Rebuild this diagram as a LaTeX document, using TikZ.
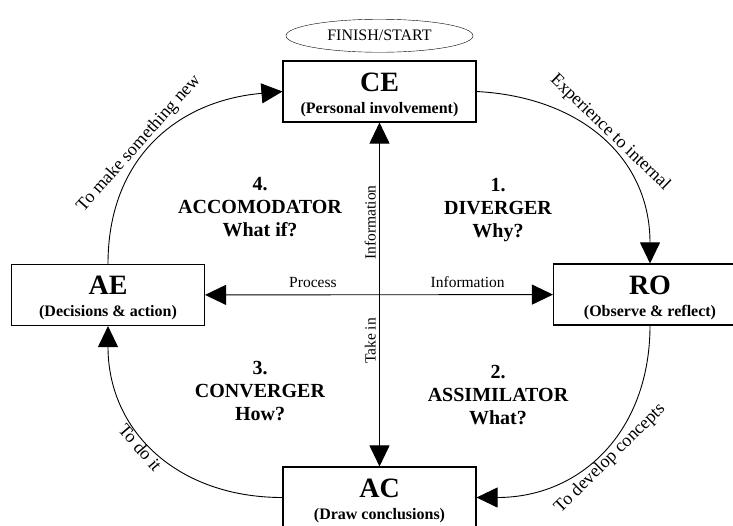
\documentclass[tikz,border=0pt]{standalone}
\usepackage{fontspec}
\setmainfont{Liberation Serif}
\usepackage{tikz}
\usetikzlibrary{
shapes,
arrows.meta,
positioning
}
\newcommand{\stagetitle}[1]{\rule{0pt}{25pt}{\fontsize{28}{28}\selectfont #1}}

\begin{document}
\begin{tikzpicture}[x=1pt,y=-1pt,
      >={Triangle[length=21pt,width=20pt]},
      stage/.style={draw,line width=1.1pt,minimum width=193pt,minimum height=61pt,inner sep=0pt,
                    align=center,font=\fontsize{16}{22}\selectfont\bfseries},
      quarter/.style={align=center,font=\fontsize{20}{23}\selectfont\bfseries},
      axislabel/.style={font=\fontsize{15.5}{18}\selectfont},
      cycleedge/.style={line width=0.9pt,->,looseness=1.1},
      curvelabel/.style={sloped,font=\fontsize{18}{20}\selectfont,inner sep=2pt}]
      \useasboundingbox (0,0) rectangle (733,525);
      \clip (0,0) rectangle (733,525);

      % the four stages
      \node[stage] (ce) at (379.5,91.5) {\stagetitle{CE}\\(Personal involvement)};
      \node[stage] (ro) at (650,294.5) {\stagetitle{RO}\\(Observe \& reflect)};
      \node[stage] (ac) at (379.5,497.5) {\stagetitle{AC}\\(Draw conclusions)};
      \node[stage] (ae) at (108,295) {\stagetitle{AE}\\(Decisions \& action)};

      \node[draw,ellipse,minimum width=187pt,minimum height=33pt,inner sep=0pt,
            font=\fontsize{16}{18}\selectfont,above=8pt of ce] (finish) {FINISH/START};

      % learning styles
      \node[quarter] (div) at (498,210) {1.\\DIVERGER\\Why?};
      \node[quarter] (ass) at (498,395) {2.\\ASSIMILATOR\\What?};
      \node[quarter] (con) at (260,391) {3.\\CONVERGER\\How?};
      \node[quarter] (acc) at (260,207) {4.\\ACCOMODATOR\\What if?};

      % axes
      \draw[line width=0.9pt,<->] (ce) -- node[axislabel,rotate=90,anchor=south,pos=.29] {Information}
            node[axislabel,rotate=90,anchor=south,pos=.635] {Take in} (ac);
      \draw[line width=0.9pt,<->] (ae) -- node[axislabel,above=3pt,pos=.31] {Process}
            node[axislabel,above=3pt,pos=.755] {Information} (ro);

      % the cycle
      \draw[cycleedge] (ce.east) to[out=-3,in=90] node[curvelabel,above,pos=.5] {Experience to internal} (ro.north);
      \draw[cycleedge] (ro.south) to[out=-90,in=0] node[curvelabel,below,pos=.5] {To develop concepts} (ac.east);
      \draw[cycleedge] (ac.west) to[out=180,in=-90] node[curvelabel,below,pos=.55] {To do it} (ae.south);
      \draw[cycleedge] (ae.north) to[out=90,in=185] node[curvelabel,above,pos=.45] {To make something new} (ce.west);
\end{tikzpicture}
\end{document}
